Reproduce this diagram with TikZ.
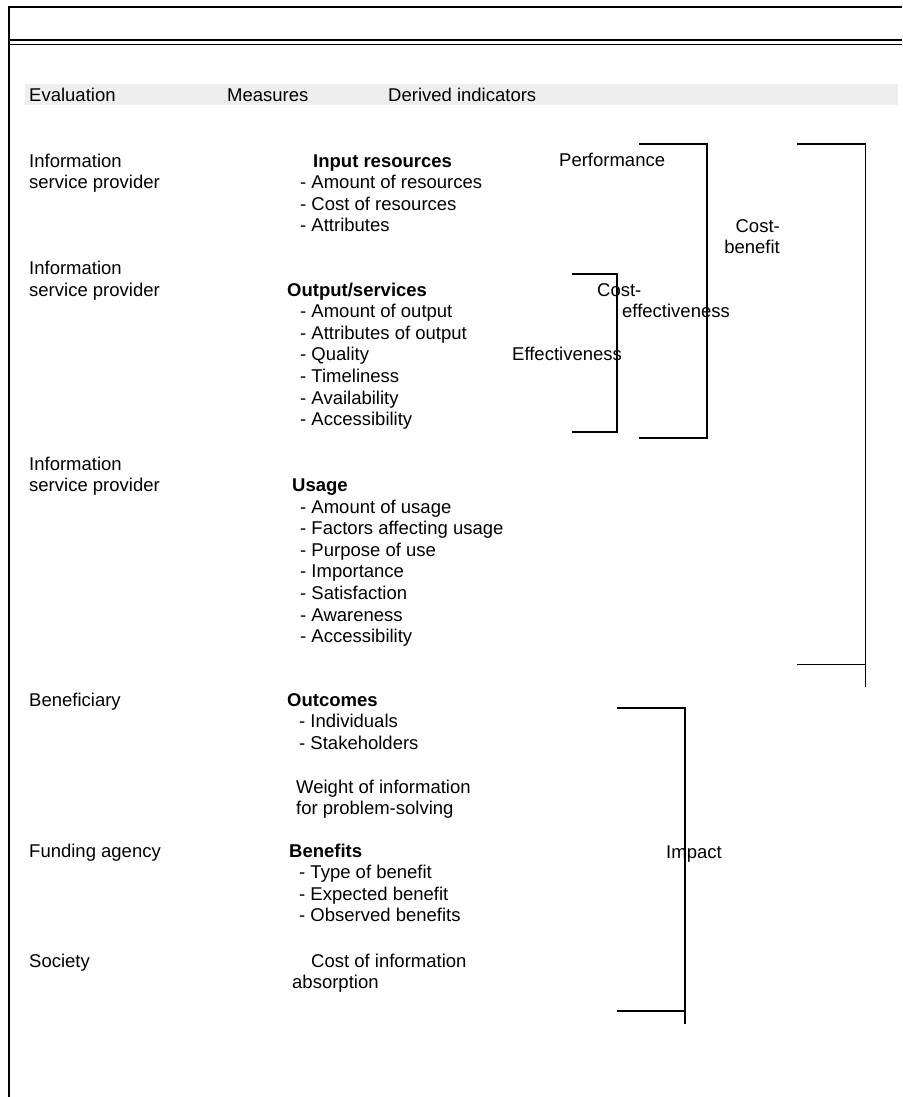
\documentclass[tikz,border=0pt]{standalone}
\usepackage{fontspec}
\setmainfont{Liberation Sans}
\begin{document}
\begin{tikzpicture}[x=1pt,y=-1pt,
  txt/.style={anchor=base west, inner sep=0pt, font=\fontsize{18.5}{21.6}\selectfont},
  txtr/.style={txt, anchor=base east},
  hd/.style={txt, font=\fontsize{18.5}{21.6}\selectfont\bfseries},
  bracket/.style={line width=1.8pt},
  frame/.style={line width=1.4pt}]
\useasboundingbox (0,0) rectangle (902,1097);
\fill[white] (0,0) rectangle (902,1097);

% page frame and rules
\draw[frame] (902,7) -- (9,7) -- (9,1097);
\draw[line width=2pt] (9,40) -- (902,40);
\draw[line width=0.9pt] (9,44.5) -- (902,44.5);

% header band
\fill[gray!13] (25,84) rectangle (898,105.5);
\node[txt] (hEval) at (29,101.5) {Evaluation};
\node[txt] (hMeas) at (227,101.5) {Measures};
\node[txt] (hDer) at (388,101.5) {Derived indicators};

% evaluation column
\node[txt] (e1a) at (29,167) {Information};
\node[txt] (e1b) at (29,188.6) {service provider};
\node[txt] (e2a) at (29,274.5) {Information};
\node[txt] (e2b) at (29,296) {service provider};
\node[txt] (e3a) at (29,470) {Information};
\node[txt] (e3b) at (29,491.5) {service provider};
\node[txt] (e4) at (29,706) {Beneficiary};
\node[txt] (e5) at (29,857) {Funding agency};
\node[txt] (e6) at (29,967) {Society};

% measures column
\node[hd] (m1) at (313,167) {Input resources};
\node[txt] (m1a) at (300,188.6) {- Amount of resources};
\node[txt] (m1b) at (300,210.2) {- Cost of resources};
\node[txt] (m1c) at (300,231.8) {- Attributes};

\node[hd] (m2) at (287,296) {Output/services};
\node[txt] (m2a) at (300,317.6) {- Amount of output};
\node[txt] (m2b) at (300,339.2) {- Attributes of output};
\node[txt] (m2c) at (300,360.8) {- Quality};
\node[txt] (m2d) at (300,382.4) {- Timeliness};
\node[txt] (m2e) at (300,404) {- Availability};
\node[txt] (m2f) at (300,425.6) {- Accessibility};

\node[hd] (m3) at (292,491.5) {Usage};
\node[txt] (m3a) at (300,513) {- Amount of usage};
\node[txt] (m3b) at (300,534.6) {- Factors affecting usage};
\node[txt] (m3c) at (300,556.2) {- Purpose of use};
\node[txt] (m3d) at (300,577.8) {- Importance};
\node[txt] (m3e) at (300,599.4) {- Satisfaction};
\node[txt] (m3f) at (300,621) {- Awareness};
\node[txt] (m3g) at (300,642.6) {- Accessibility};

\node[hd] (m4) at (287,706) {Outcomes};
\node[txt] (m4a) at (299,727.6) {- Individuals};
\node[txt] (m4b) at (299,749.2) {- Stakeholders};
\node[txt] (m4c) at (296,793) {Weight of information};
\node[txt] (m4d) at (296,814.6) {for problem-solving};

\node[hd] (m5) at (289,857) {Benefits};
\node[txt] (m5a) at (299,878.6) {- Type of benefit};
\node[txt] (m5b) at (299,900.2) {- Expected benefit};
\node[txt] (m5c) at (299,921.8) {- Observed benefits};
\node[txt] (m6a) at (311,967) {Cost of information};
\node[txt] (m6b) at (292,988.6) {absorption};

% derived indicators
\node[txt] (dPerf) at (559,166.5) {Performance};
\node[txtr] (dCB1) at (780,232.5) {Cost-};
\node[txtr] (dCB2) at (780,253) {benefit};
\node[txt] (dCE1) at (597,296) {Cost-};
\node[txt] (dCE2) at (622,317.5) {effectiveness};
\node[txt] (dEff) at (512,360.5) {Effectiveness};
\node[txt] (dImp) at (666,858) {Impact};

% brackets grouping the measures
\draw[bracket] (639,144) -- (707,144) -- (707,438) -- (639,438);
\draw[bracket] (572,274) -- (617,274) -- (617,432) -- (572,432);
\draw[bracket] (797,144) -- (865.5,144) -- (865.5,687);
\draw[bracket] (797,664.5) -- (865.5,664.5);
\draw[bracket] (617,708) -- (685,708) -- (685,1024);
\draw[bracket] (617,1011) -- (685,1011);
\end{tikzpicture}
\end{document}
